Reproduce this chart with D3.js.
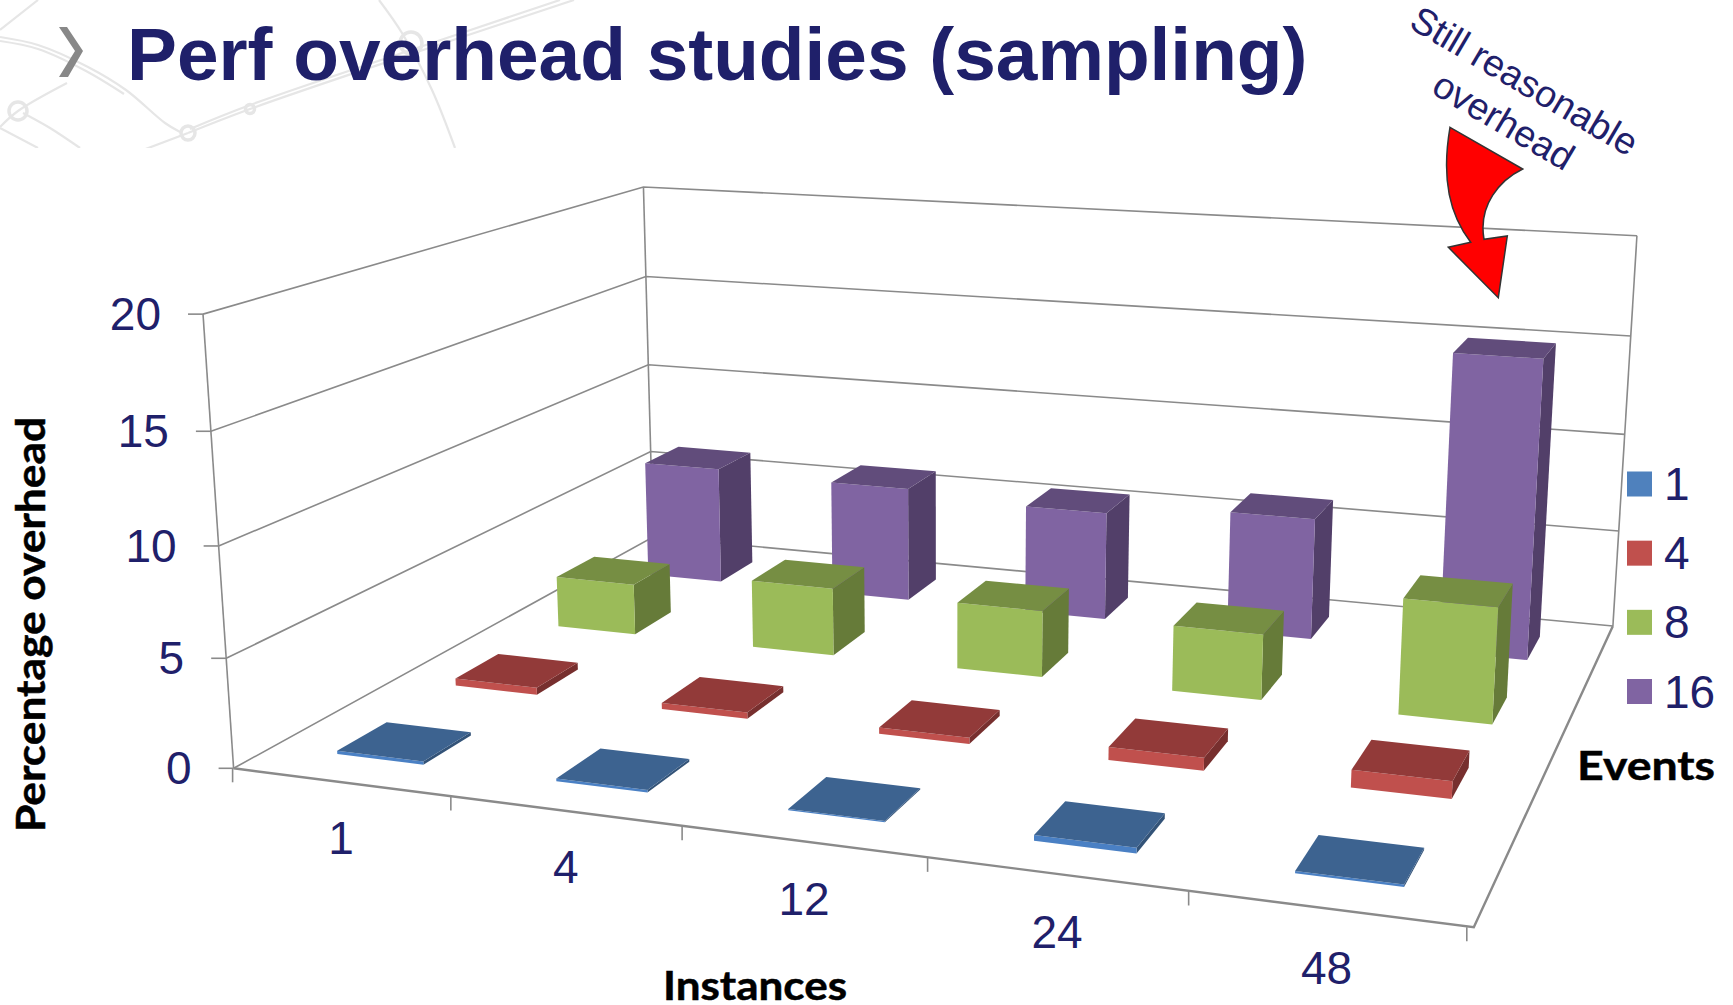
<!DOCTYPE html>
<html>
<head>
<meta charset="utf-8">
<script src="https://cdnjs.cloudflare.com/ajax/libs/d3/7.8.5/d3.min.js"></script>
<style>
html, body { margin: 0; padding: 0; background: #fff; }
svg { display: block; }
</style>
</head>
<body>
<div id="chart-area"></div>
<script>
/*
*    3D column chart, drawn by projecting through a fitted camera
*/

// data
var instances = ["1", "4", "12", "24", "48"];
var events = ["1", "4", "8", "16"];
var overhead1 = [0.15, 0.12, 0.05, 0.25, 0.1];
var overhead4 = [0.35, 0.3, 0.3, 0.6, 0.8];
var overhead8 = [2.6, 3.4, 3.3, 3.2, 5.55];
var overhead16 = [6.2, 6.0, 5.6, 6.2, 15];
var seriesValues = [overhead1, overhead4, overhead8, overhead16];
var yTicks = [0, 5, 10, 15, 20];

var faceColors = [
    { front: "#4a80c4", top: "#3d6390", side: "#335378" },
    { front: "#c0504d", top: "#923a39", side: "#772f2e" },
    { front: "#9bbb59", top: "#768e43", side: "#667b39" },
    { front: "#8064a2", top: "#614c7b", side: "#523f69" }
];
var legendColors = ["#4f81bd", "#c0504d", "#9bbb59", "#8064a2"];
var navy = "#1f206a";
var gridColor = "#8a8a8a";

var width = 1733;
var height = 1005;

var svg = d3.select("#chart-area").append("svg")
    .attr("width", width)
    .attr("height", height);

// scales in chart space, u along instances, v into the depth, h up the wall
var xBand = d3.scaleBand().domain(instances).range([0, 1]).paddingInner(0.6).paddingOuter(0.3);
var xEdge = d3.scaleLinear().domain([0, instances.length]).range([0, 1]);
var zBand = d3.scaleBand().domain(events).range([0, 1]).paddingInner(0.6).paddingOuter(0.3);
var yScale = d3.scaleLinear().domain([0, 20]).range([0, 1]);
var legendY = d3.scalePoint().domain(events).range([484, 691.5]);
// ticks and labels under the front edge drift left and down a little
var driftX = d3.scaleLinear().domain([0, 1]).range([-1, -7]);
var driftY = d3.scaleLinear().domain([0, 1]).range([71, 75]);

// camera fit from the box corners
var floorFL = [233.6, 768.3], floorFR = [1473.8, 927.3], floorBR = [1612.9, 626], floorBL = [653, 537];
var topFL = [204.5, 316], topBR = [1637.3, 235.3], topBL = [642, 186];

function solve(A, b) {
    var n = b.length;
    var m = A.map((row, i) => row.concat(b[i]));
    for (var i = 0; i < n; i++) {
        var p = i;
        for (var r = i + 1; r < n; r++) if (Math.abs(m[r][i]) > Math.abs(m[p][i])) p = r;
        var t = m[i]; m[i] = m[p]; m[p] = t;
        for (var r2 = 0; r2 < n; r2++) {
            if (r2 === i) continue;
            var f = m[r2][i] / m[i][i];
            for (var c = i; c <= n; c++) m[r2][c] -= f * m[i][c];
        }
    }
    return m.map((row, i) => row[n] / row[i]);
}

var floorPts = [[0, 0, floorFL], [1, 0, floorFR], [1, 1, floorBR], [0, 1, floorBL]];
var A8 = [], b8 = [];
floorPts.forEach((d) => {
    var u = d[0], v = d[1], sx = d[2][0], sy = d[2][1];
    A8.push([u, v, 1, 0, 0, 0, -u * sx, -v * sx]); b8.push(sx);
    A8.push([0, 0, 0, u, v, 1, -u * sy, -v * sy]); b8.push(sy);
});
var H = solve(A8, b8);

function floorHom(u, v) {
    return [H[0] * u + H[1] * v + H[2], H[3] * u + H[4] * v + H[5], H[6] * u + H[7] * v + 1];
}

// column for height, least squares on the three wall tops
var rows = [], rhs = [];
[[0, 0, topFL], [1, 1, topBR], [0, 1, topBL]].forEach((d) => {
    var p = floorHom(d[0], d[1]);
    rows.push([1, 0, -d[2][0]]); rhs.push(d[2][0] * p[2] - p[0]);
    rows.push([0, 1, -d[2][1]]); rhs.push(d[2][1] * p[2] - p[1]);
});
var AtA = [0, 1, 2].map((i) => [0, 1, 2].map((j) => d3.sum(rows, (r) => r[i] * r[j])));
var Atb = [0, 1, 2].map((i) => d3.sum(rows, (r, k) => r[i] * rhs[k]));
var V = solve(AtA, Atb);

function project(u, v, h) {
    var p = floorHom(u, v);
    var w = p[2] + h * V[2];
    return [(p[0] + h * V[0]) / w, (p[1] + h * V[1]) / w];
}

var line = d3.line();
var polygon = (pts) => line(pts) + "Z";

// slide background
var bg = svg.append("g").attr("fill", "none").attr("stroke", "#e6e6e6");
svg.append("clipPath").attr("id", "bg-clip").append("rect").attr("width", 760).attr("height", 148);
bg.attr("clip-path", "url(#bg-clip)");
var curve = d3.line().curve(d3.curveCatmullRom);
var bgLines = [
    [[0, 37], [38, 45], [88, 67], [126, 90], [165, 123], [180, 132]],
    [[0, 41], [38, 49], [86, 71], [124, 94]],
    [[188, 133], [250, 109], [402, 57], [574, 0]],
    [[190, 129], [250, 105], [402, 53], [560, 0]],
    [[188, 133], [143, 150]],
    [[379, 0], [402, 33], [432, 90], [455, 148]],
    [[38, 0], [0, 30]],
    [[67, 83], [18, 111], [0, 127]],
    [[23, 113], [50, 128], [80, 148]],
    [[0, 128], [38, 148]]
];
bg.selectAll("path").data(bgLines).enter().append("path")
    .attr("d", (d) => curve(d))
    .attr("stroke-width", 2.2);
bg.selectAll("circle").data([[188, 133, 7], [250, 109, 4.5], [18, 111, 9], [411, 43, 11]]).enter().append("circle")
    .attr("cx", (d) => d[0])
    .attr("cy", (d) => d[1])
    .attr("r", (d) => d[2])
    .attr("stroke-width", 3.5);

// title
svg.append("path")
    .attr("d", polygon([[59, 27], [67, 27], [83, 51], [68, 77], [59, 77], [75, 51]]))
    .attr("fill", "#888888");
svg.append("text")
    .attr("x", 127)
    .attr("y", 80)
    .attr("font-family", "Liberation Sans")
    .attr("font-weight", "bold")
    .attr("font-size", "74.8px")
    .attr("fill", navy)
    .text("Perf overhead studies (sampling)");

// walls and gridlines
var walls = svg.append("g").attr("stroke", gridColor).attr("fill", "none").attr("stroke-width", 1.6);
yTicks.forEach((t) => {
    var h = yScale(t);
    walls.append("path").attr("d", line([project(0, 0, h), project(0, 1, h), project(1, 1, h)]));
    var p = project(0, 0, h);
    walls.append("path").attr("d", line([[p[0] - 15, p[1]], p]));
});
walls.append("path").attr("d", line([project(0, 0, 0), project(0, 0, 1)]));
walls.append("path").attr("d", line([project(0, 1, 0), project(0, 1, 1)]));
walls.append("path").attr("d", line([project(1, 1, 0), project(1, 1, 1)]));
walls.append("path").attr("d", line([project(1, 1, 0), project(1, 0, 0), project(0, 0, 0)])).attr("stroke-width", 2.4);
d3.range(instances.length + 1).forEach((i) => {
    var u = xEdge(i);
    var p = project(u, 0, 0);
    walls.append("path").attr("d", line([[p[0] + driftX(u), p[1]], [p[0] + driftX(u), p[1] + 14]]));
});

// columns, back row first
var columns = svg.append("g");
d3.range(events.length - 1, -1, -1).forEach((s) => {
    var v0 = zBand(events[s]), v1 = v0 + zBand.bandwidth();
    instances.forEach((inst, i) => {
        var u0 = xBand(inst), u1 = u0 + xBand.bandwidth(), h = yScale(seriesValues[s][i]);
        var c = faceColors[s];
        columns.append("path").attr("fill", c.side)
            .attr("d", polygon([project(u1, v0, 0), project(u1, v1, 0), project(u1, v1, h), project(u1, v0, h)]));
        columns.append("path").attr("fill", c.front)
            .attr("d", polygon([project(u0, v0, 0), project(u1, v0, 0), project(u1, v0, h), project(u0, v0, h)]));
        columns.append("path").attr("fill", c.top)
            .attr("d", polygon([project(u0, v0, h), project(u1, v0, h), project(u1, v1, h), project(u0, v1, h)]));
    });
});

// axis labels
var labels = svg.append("g")
    .attr("font-family", "Liberation Sans")
    .attr("font-size", "46px")
    .attr("fill", navy);
yTicks.forEach((t) => {
    var p = project(0, 0, yScale(t));
    labels.append("text")
        .attr("x", p[0] - 42)
        .attr("y", p[1] + 16)
        .attr("text-anchor", "end")
        .text(t);
});
instances.forEach((inst) => {
    var u = xBand(inst) + xBand.bandwidth() / 2;
    var p = project(u, 0, 0);
    labels.append("text")
        .attr("x", p[0] + driftX(u) + 1)
        .attr("y", p[1] + driftY(u))
        .attr("text-anchor", "middle")
        .text(inst);
});

// legend
events.forEach((e, i) => {
    svg.append("rect")
        .attr("x", 1627)
        .attr("y", legendY(e) - 12.5)
        .attr("width", 25)
        .attr("height", 25)
        .attr("fill", legendColors[i]);
    labels.append("text")
        .attr("x", 1664)
        .attr("y", legendY(e) + 16)
        .text(e);
});

// axis titles
var titles = svg.append("g")
    .attr("font-family", "Lato")
    .attr("font-weight", "bold")
    .attr("font-size", "41px")
    .attr("fill", "#000")
    .attr("stroke", "#000")
    .attr("stroke-width", 0.5)
    .attr("lengthAdjust", "spacingAndGlyphs");
titles.append("text").attr("x", 663).attr("y", 1000)
    .attr("textLength", 184).attr("lengthAdjust", "spacingAndGlyphs").text("Instances");
titles.append("text").attr("x", 1577).attr("y", 780)
    .attr("textLength", 138).attr("lengthAdjust", "spacingAndGlyphs").text("Events");
titles.append("text").attr("transform", "translate(44.5,832) rotate(-90)")
    .attr("textLength", 415).attr("lengthAdjust", "spacingAndGlyphs").text("Percentage overhead");

// callout
var callout = svg.append("g")
    .attr("font-family", "Liberation Sans")
    .attr("font-size", "37.5px")
    .attr("fill", navy)
    .attr("text-anchor", "middle");
callout.append("text").attr("transform", "translate(1518,92) rotate(30.5)").text("Still reasonable");
callout.append("text").attr("transform", "translate(1497,132) rotate(30.5)").text("overhead");

svg.append("path")
    .attr("d", "M1450,127.3 L1522.7,169 C1500,180 1478,205 1484,239.3 L1507.3,236 L1498.3,297.7 L1448.3,247.3 L1470.7,242.3 C1450,215 1441,180 1450,127.3 Z")
    .attr("fill", "#ff0000")
    .attr("stroke", "#333")
    .attr("stroke-width", 1.5);
</script>
</body>
</html>
